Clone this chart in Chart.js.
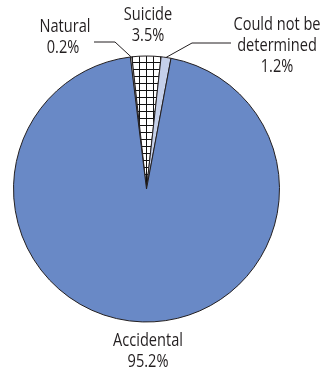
<!DOCTYPE html>
<html>
<head>
<meta charset="utf-8">
<script src="https://cdn.jsdelivr.net/npm/chart.js@4"></script>
<style>
  html, body { margin: 0; padding: 0; background: #fff; }
  #wrap { width: 323px; height: 372px; }
</style>
</head>
<body>
<div id="wrap"><canvas id="pieChart" width="323" height="372"></canvas></div>
<script>
// Dados do gráfico
var categories = ['Natural', 'Suicide', 'Could not be determined', 'Accidental'];
var shares = [0.2, 3.5, 1.2, 95.2];
var valueLabels = ['0.2%', '3.5%', '1.2%', '95.2%'];

// padrão quadriculado para "Suicide"
function gridPattern(ctx) {
    var c = document.createElement('canvas');
    c.width = 7; c.height = 7;
    var g = c.getContext('2d');
    g.fillStyle = '#fff';
    g.fillRect(0, 0, 7, 7);
    g.fillStyle = '#111';
    g.fillRect(6, 0, 1, 7);
    g.fillRect(0, 6, 7, 1);
    return ctx.createPattern(c, 'repeat');
}

var font = '18px "Open Sans", "Noto Sans", sans-serif';

// texto um pouco condensado
function narrowText(ctx, txt, x, y) {
    ctx.save();
    ctx.translate(x, y);
    ctx.scale(0.81, 1);
    ctx.fillText(txt, 0, 0);
    ctx.restore();
}

// rótulos com linhas de chamada
var labelPlugin = {
    id: 'pieLabels',
    afterDraw: function (chart) {
        var ctx = chart.ctx;
        var arcs = chart.getDatasetMeta(0).data;
        var cx = arcs[0].x, cy = arcs[0].y, r = arcs[0].outerRadius;
        ctx.save();
        ctx.font = font;
        ctx.fillStyle = '#231f20';
        ctx.textAlign = 'center';
        ctx.textBaseline = 'alphabetic';

        // Natural
        narrowText(ctx, 'Natural', 65, 32);
        narrowText(ctx, valueLabels[0], 63, 53);
        // Suicide
        narrowText(ctx, 'Suicide', 148, 20);
        narrowText(ctx, valueLabels[1], 148, 41);
        // Could not be determined
        narrowText(ctx, 'Could not be', 277, 30);
        narrowText(ctx, 'determined', 277, 51);
        narrowText(ctx, valueLabels[2], 277, 72);
        // Accidental
        narrowText(ctx, 'Accidental', 148, 346);
        narrowText(ctx, valueLabels[3], 148, 367);

        // linhas de chamada
        function midPoint(a) {
            var ang = (a.startAngle + a.endAngle) / 2;
            return [cx + Math.cos(ang) * r, cy + Math.sin(ang) * r];
        }
        ctx.strokeStyle = '#231f20';
        ctx.lineWidth = 1;
        var p = midPoint(arcs[0]);
        ctx.beginPath();
        ctx.moveTo(94, 42);
        ctx.lineTo(115, 42);
        ctx.lineTo(p[0], p[1]);
        ctx.stroke();
        p = midPoint(arcs[2]);
        ctx.beginPath();
        ctx.moveTo(p[0], p[1]);
        ctx.lineTo(192, 43);
        ctx.lineTo(231, 43);
        ctx.stroke();
        ctx.restore();
    }
};

document.addEventListener('DOMContentLoaded', function () {
    var canvas = document.getElementById('pieChart');
    var ctx = canvas.getContext('2d');
    new Chart(ctx, {
        type: 'pie',
        data: {
            labels: categories,
            datasets: [{
                data: shares,
                backgroundColor: ['#ffffff', gridPattern(ctx), '#c5d0ea', '#6989c6'],
                borderColor: '#231f20',
                borderWidth: 1
            }]
        },
        options: {
            responsive: false,
            animation: false,
            rotation: -7,
            layout: { padding: { left: 13, right: 43, top: 55, bottom: 49 } },
            plugins: {
                legend: { display: false },
                tooltip: { enabled: false }
            }
        },
        plugins: [labelPlugin]
    });
});
</script>
</body>
</html>
